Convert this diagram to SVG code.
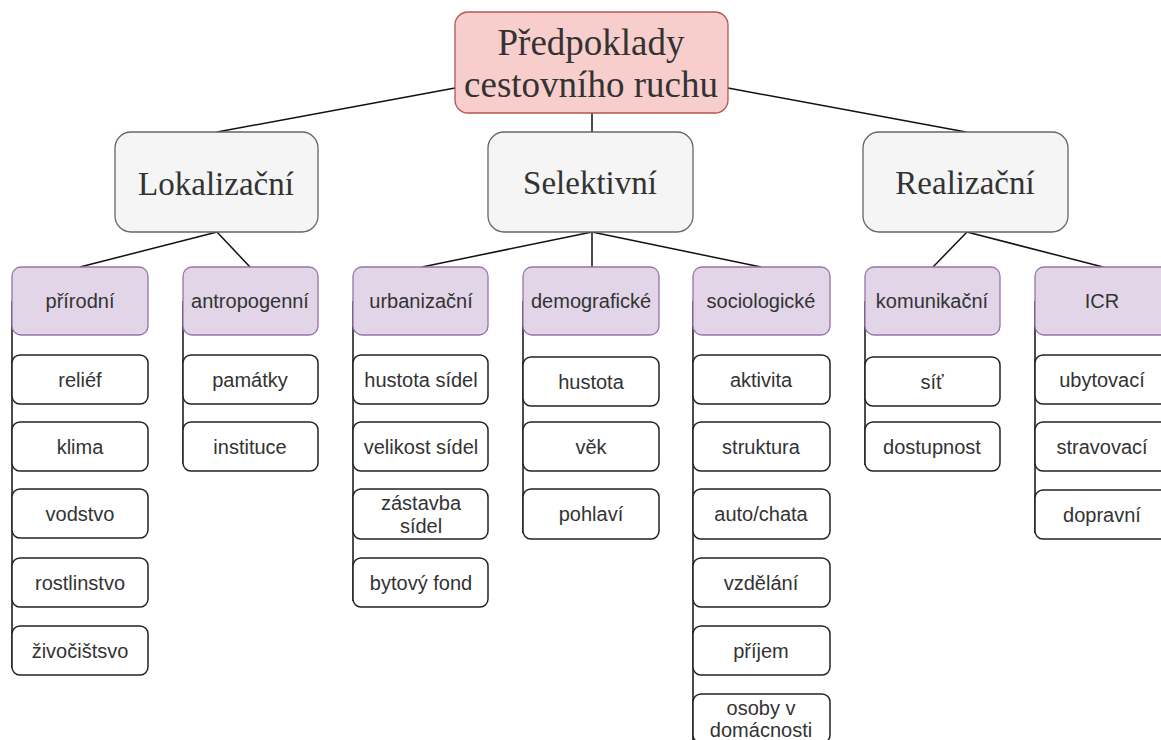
<svg xmlns="http://www.w3.org/2000/svg" width="1161" height="740" viewBox="0 0 1161 740">
<style>
.root{fill:#f8cecc;stroke:#b85450;stroke-width:1.3}
.l2{fill:#f5f5f5;stroke:#666;stroke-width:1.3}
.cat{fill:#e1d5e7;stroke:#9673a6;stroke-width:1.3}
.leaf{fill:#fff;stroke:#222;stroke-width:1.5}
.serif{font-family:"Liberation Serif","Times New Roman",serif;fill:#333;text-anchor:middle}
.sans{font-family:"Liberation Sans",Arial,sans-serif;font-size:20px;fill:#333;text-anchor:middle}
.conn line{stroke:#111;stroke-width:1.5}
</style>
<rect width="1161" height="740" fill="#fff"/>
<g class="conn" id="connectors">
<line x1="455" y1="88" x2="217" y2="132"/>
<line x1="592" y1="113" x2="592" y2="132"/>
<line x1="728" y1="88" x2="966" y2="132"/>
<line x1="217" y1="232" x2="80" y2="267"/>
<line x1="217" y1="232" x2="250" y2="267"/>
<line x1="592" y1="232" x2="422" y2="267"/>
<line x1="592" y1="232" x2="592" y2="267"/>
<line x1="592" y1="232" x2="761" y2="267"/>
<line x1="967" y1="232" x2="933" y2="267"/>
<line x1="967" y1="232" x2="1103" y2="267"/>
<line x1="12" y1="301" x2="12" y2="668"/>
<line x1="183" y1="301" x2="183" y2="464"/>
<line x1="353" y1="301" x2="353" y2="601"/>
<line x1="523" y1="301" x2="523" y2="533"/>
<line x1="693" y1="301" x2="693" y2="740"/>
<line x1="865" y1="301" x2="865" y2="465"/>
<line x1="1035" y1="301" x2="1035" y2="533"/>
</g>
<g id="root"><rect class="root" x="455" y="12" width="273" height="101" rx="13"/><text class="serif" font-size="37" x="591" y="55">Předpoklady</text><text class="serif" font-size="37" x="591" y="97">cestovního ruchu</text></g>
<g id="lokalizacni"><rect class="l2" x="115" y="132" width="203" height="100" rx="16"/><text class="serif" font-size="33" x="216" y="195">Lokalizační</text></g>
<g id="selektivni"><rect class="l2" x="488" y="132" width="205" height="100" rx="16"/><text class="serif" font-size="33" x="590" y="194">Selektivní</text></g>
<g id="realizacni"><rect class="l2" x="863" y="132" width="205" height="100" rx="16"/><text class="serif" font-size="33" x="965" y="194">Realizační</text></g>
<g id="prirodni"><rect class="cat" x="12" y="267" width="136" height="68" rx="9"/><text class="sans" x="80" y="308">přírodní</text></g>
<g id="antropogenni"><rect class="cat" x="183" y="267" width="135" height="68" rx="9"/><text class="sans" x="250" y="308">antropogenní</text></g>
<g id="urbanizacni"><rect class="cat" x="353" y="267" width="135" height="68" rx="9"/><text class="sans" x="421" y="308">urbanizační</text></g>
<g id="demograficke"><rect class="cat" x="523" y="267" width="136" height="68" rx="9"/><text class="sans" x="591" y="308">demografické</text></g>
<g id="sociologicke"><rect class="cat" x="693" y="267" width="137" height="68" rx="9"/><text class="sans" x="761" y="308">sociologické</text></g>
<g id="komunikacni"><rect class="cat" x="865" y="267" width="135" height="68" rx="9"/><text class="sans" x="932" y="308">komunikační</text></g>
<g id="icr"><rect class="cat" x="1035" y="267" width="135" height="68" rx="9"/><text class="sans" x="1102" y="308">ICR</text></g>
<g id="relief"><rect class="leaf" x="12" y="355" width="136" height="49" rx="8"/><text class="sans" x="80" y="387">reliéf</text></g>
<g id="klima"><rect class="leaf" x="12" y="422" width="136" height="49" rx="8"/><text class="sans" x="80" y="454">klima</text></g>
<g id="vodstvo"><rect class="leaf" x="12" y="489" width="136" height="49" rx="8"/><text class="sans" x="80" y="521">vodstvo</text></g>
<g id="rostlinstvo"><rect class="leaf" x="12" y="558" width="136" height="49" rx="8"/><text class="sans" x="80" y="590">rostlinstvo</text></g>
<g id="zivocistsvo"><rect class="leaf" x="12" y="626" width="136" height="49" rx="8"/><text class="sans" x="80" y="658">živočištsvo</text></g>
<g id="pamatky"><rect class="leaf" x="183" y="355" width="135" height="49" rx="8"/><text class="sans" x="250" y="387">památky</text></g>
<g id="instituce"><rect class="leaf" x="183" y="422" width="135" height="49" rx="8"/><text class="sans" x="250" y="454">instituce</text></g>
<g id="hustota-sidel"><rect class="leaf" x="353" y="355" width="135" height="49" rx="8"/><text class="sans" x="421" y="387">hustota sídel</text></g>
<g id="velikost-sidel"><rect class="leaf" x="353" y="422" width="135" height="49" rx="8"/><text class="sans" x="421" y="454">velikost sídel</text></g>
<g id="zastavba-sidel"><rect class="leaf" x="353" y="489" width="135" height="50" rx="8"/><text class="sans" x="421" y="510">zástavba</text><text class="sans" x="421" y="533">sídel</text></g>
<g id="bytovy-fond"><rect class="leaf" x="353" y="558" width="135" height="49" rx="8"/><text class="sans" x="421" y="590">bytový fond</text></g>
<g id="hustota"><rect class="leaf" x="523" y="357" width="136" height="49" rx="8"/><text class="sans" x="591" y="389">hustota</text></g>
<g id="vek"><rect class="leaf" x="523" y="422" width="136" height="49" rx="8"/><text class="sans" x="591" y="454">věk</text></g>
<g id="pohlavi"><rect class="leaf" x="523" y="489" width="136" height="50" rx="8"/><text class="sans" x="591" y="521">pohlaví</text></g>
<g id="aktivita"><rect class="leaf" x="693" y="355" width="137" height="49" rx="8"/><text class="sans" x="761" y="387">aktivita</text></g>
<g id="struktura"><rect class="leaf" x="693" y="422" width="137" height="49" rx="8"/><text class="sans" x="761" y="454">struktura</text></g>
<g id="auto-chata"><rect class="leaf" x="693" y="489" width="137" height="50" rx="8"/><text class="sans" x="761" y="521">auto/chata</text></g>
<g id="vzdelani"><rect class="leaf" x="693" y="558" width="137" height="49" rx="8"/><text class="sans" x="761" y="590">vzdělání</text></g>
<g id="prijem"><rect class="leaf" x="693" y="626" width="137" height="49" rx="8"/><text class="sans" x="761" y="658">příjem</text></g>
<g id="osoby"><rect class="leaf" x="693" y="694" width="137" height="49" rx="8"/><text class="sans" x="761" y="715">osoby v</text><text class="sans" x="761" y="737">domácnosti</text></g>
<g id="sit"><rect class="leaf" x="865" y="357" width="135" height="49" rx="8"/><text class="sans" x="932" y="389">síť</text></g>
<g id="dostupnost"><rect class="leaf" x="865" y="422" width="135" height="49" rx="8"/><text class="sans" x="932" y="454">dostupnost</text></g>
<g id="ubytovaci"><rect class="leaf" x="1035" y="355" width="135" height="49" rx="8"/><text class="sans" x="1102" y="387">ubytovací</text></g>
<g id="stravovaci"><rect class="leaf" x="1035" y="422" width="135" height="49" rx="8"/><text class="sans" x="1102" y="454">stravovací</text></g>
<g id="dopravni"><rect class="leaf" x="1035" y="490" width="135" height="49" rx="8"/><text class="sans" x="1102" y="522">dopravní</text></g>
</svg>
